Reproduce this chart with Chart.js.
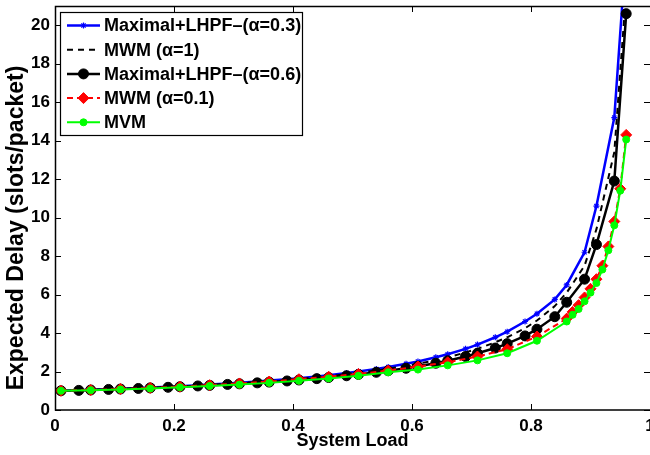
<!DOCTYPE html>
<html>
<head>
<meta charset="utf-8">
<script src="https://cdn.jsdelivr.net/npm/chart.js@4/dist/chart.umd.min.js"></script>
<style>
  html, body { margin: 0; padding: 0; background: #fff; overflow: hidden; }
  #wrap { width: 650px; height: 455px; }
</style>
</head>
<body>
<div id="wrap"><canvas id="delayChart" width="650" height="455"></canvas></div>
<script>
// system load points (dense grid used by the LHPF curves and MWM alpha=1)
const loadGrid = [0.01, 0.04, 0.06, 0.09, 0.11, 0.14, 0.16, 0.19, 0.21, 0.24,
                  0.26, 0.29, 0.31, 0.34, 0.36, 0.39, 0.41, 0.44, 0.46, 0.49,
                  0.51, 0.54, 0.56, 0.59, 0.61, 0.64, 0.66, 0.69, 0.71, 0.74,
                  0.76, 0.79, 0.81, 0.84, 0.86, 0.89, 0.91, 0.94, 0.96];
// sparser grid used by MWM alpha=0.1 and MVM
const loadSparse = [0.01, 0.06, 0.11, 0.16, 0.21, 0.26, 0.31, 0.36, 0.41, 0.46,
                    0.51, 0.56, 0.61, 0.66, 0.71, 0.76, 0.81, 0.86, 0.87, 0.88,
                    0.89, 0.90, 0.91, 0.92, 0.93, 0.94, 0.95, 0.96];

const lhpf03 = [1.00, 1.03, 1.05, 1.08, 1.11, 1.14, 1.17, 1.21, 1.24, 1.29,
                1.32, 1.38, 1.42, 1.48, 1.53, 1.60, 1.65, 1.74, 1.81, 1.92,
                2.00, 2.13, 2.23, 2.40, 2.52, 2.74, 2.90, 3.18, 3.40, 3.78,
                4.07, 4.60, 5.00, 5.75, 6.50, 8.20, 10.6, 15.2, 24.0];
const mwm1 = [1.00, 1.03, 1.05, 1.08, 1.10, 1.13, 1.16, 1.20, 1.23, 1.28,
              1.31, 1.36, 1.40, 1.46, 1.50, 1.57, 1.62, 1.70, 1.76, 1.86,
              1.93, 2.05, 2.14, 2.29, 2.40, 2.59, 2.74, 2.99, 3.18, 3.52,
              3.78, 4.25, 4.65, 5.40, 6.10, 7.50, 9.40, 13.4, 21.8];
const lhpf06 = [1.00, 1.02, 1.04, 1.07, 1.09, 1.12, 1.15, 1.18, 1.21, 1.25,
                1.28, 1.33, 1.36, 1.41, 1.45, 1.51, 1.56, 1.63, 1.69, 1.78,
                1.85, 1.96, 2.04, 2.17, 2.27, 2.43, 2.56, 2.78, 2.95, 3.22,
                3.45, 3.85, 4.20, 4.85, 5.60, 6.80, 8.60, 11.9, 20.6];
const mwm01 = [1.00, 1.04, 1.09, 1.15, 1.21, 1.29, 1.38, 1.48, 1.60, 1.73,
               1.87, 2.05, 2.26, 2.48, 2.78, 3.16, 3.82, 4.75, 5.10, 5.45,
               5.85, 6.30, 6.80, 7.50, 8.50, 9.80, 11.5, 14.3];
const mvm = [1.00, 1.03, 1.07, 1.12, 1.18, 1.25, 1.32, 1.41, 1.52, 1.64,
             1.78, 1.96, 2.10, 2.32, 2.58, 2.95, 3.60, 4.60, 4.95, 5.25,
             5.65, 6.10, 6.60, 7.30, 8.30, 9.60, 11.4, 14.06];

const seriesNames = ['Maximal+LHPF\u2013(\u03b1=0.3)', 'MWM (\u03b1=1)',
                     'Maximal+LHPF\u2013(\u03b1=0.6)', 'MWM (\u03b1=0.1)', 'MVM'];
const xTicks = [0, 0.2, 0.4, 0.6, 0.8, 1];
const yTicks = [0, 2, 4, 6, 8, 10, 12, 14, 16, 18, 20];
const yTitle = 'Expected Delay (slots/packet)';

const pts = (xs, ys) => xs.map((x, i) => ({ x: x, y: ys[i] }));
const FONT = '"Liberation Sans", Arial, Helvetica, sans-serif';

// matlab style frame with inward ticks; right edge falls off the canvas
const matlabFrame = {
  id: 'matlabFrame',
  afterDatasetsDraw(chart) {
    const { ctx, chartArea: a, scales: { x, y } } = chart;
    ctx.save();
    ctx.strokeStyle = '#000';
    ctx.lineWidth = 1;
    ctx.beginPath();
    x.ticks.forEach(t => {
      const px = Math.round(x.getPixelForValue(t.value)) + 0.5;
      ctx.moveTo(px, a.bottom); ctx.lineTo(px, a.bottom - 6);
      ctx.moveTo(px, a.top); ctx.lineTo(px, a.top + 6);
    });
    y.ticks.forEach(t => {
      const py = Math.round(y.getPixelForValue(t.value)) + 0.5;
      ctx.moveTo(a.left, py); ctx.lineTo(a.left + 6, py);
      ctx.moveTo(a.right, py); ctx.lineTo(a.right - 6, py);
    });
    ctx.stroke();
    ctx.lineWidth = 1.5;
    ctx.beginPath();
    ctx.moveTo(a.right + 2, a.top + 0.5);
    ctx.lineTo(a.left + 0.5, a.top + 0.5);
    ctx.lineTo(a.left + 0.5, a.bottom);
    ctx.lineTo(a.right + 2, a.bottom);
    ctx.stroke();
    ctx.restore();
  }
};

// y axis label, sits a little below the axis middle like the matlab export
const yLabel = {
  id: 'yLabel',
  afterDraw(chart) {
    const { ctx, chartArea: a } = chart;
    ctx.save();
    ctx.translate(17, (a.top + a.bottom) / 2 + 20);
    ctx.rotate(-Math.PI / 2);
    ctx.fillStyle = '#000';
    ctx.font = 'bold 23px ' + FONT;
    ctx.textAlign = 'center';
    ctx.textBaseline = 'middle';
    ctx.fillText(yTitle, 0, 0);
    ctx.restore();
  }
};

// boxed legend in the upper left corner of the axes
const boxLegend = {
  id: 'boxLegend',
  afterDraw(chart) {
    const { ctx, chartArea: a } = chart;
    const left = a.left + 5, top = a.top + 6, w = 242, h = 123, row = 24.2;
    ctx.save();
    ctx.fillStyle = '#fff';
    ctx.fillRect(left, top, w, h);
    ctx.strokeStyle = '#000';
    ctx.lineWidth = 1.2;
    ctx.strokeRect(left + 0.5, top + 0.5, w, h);
    chart.data.datasets.forEach((ds, i) => {
      const cy = top + 13.5 + i * row;
      ctx.strokeStyle = ds.borderColor;
      ctx.lineWidth = ds.borderWidth;
      ctx.setLineDash(ds.borderDash || []);
      ctx.beginPath();
      ctx.moveTo(left + 7, cy);
      ctx.lineTo(left + 40, cy);
      ctx.stroke();
      ctx.setLineDash([]);
      if (ds.pointRadius > 0 && Chart.helpers && Chart.helpers.drawPoint) {
        ctx.fillStyle = ds.pointBackgroundColor;
        ctx.strokeStyle = ds.pointBorderColor;
        ctx.lineWidth = ds.pointBorderWidth;
        Chart.helpers.drawPoint(ctx, {
          pointStyle: ds.pointStyle, radius: ds.pointRadius,
          rotation: 0, borderWidth: ds.pointBorderWidth
        }, left + 23.5, cy);
      }
      ctx.fillStyle = '#000';
      ctx.font = 'bold 18px ' + FONT;
      ctx.textBaseline = 'middle';
      ctx.textAlign = 'left';
      ctx.fillText(seriesNames[i], left + 44, cy + 1);
    });
    ctx.restore();
  }
};

new Chart(document.getElementById('delayChart'), {
  type: 'line',
  data: {
    datasets: [
      {
        label: seriesNames[0], data: pts(loadGrid, lhpf03), order: 4,
        borderColor: '#0000ff', borderWidth: 2.5,
        pointStyle: 'star', pointRadius: 3, pointBorderWidth: 1.2,
        pointBackgroundColor: '#0000ff', pointBorderColor: '#0000ff'
      },
      {
        label: seriesNames[1], data: pts(loadGrid, mwm1), order: 3,
        borderColor: '#000000', borderWidth: 2, borderDash: [6, 5],
        pointRadius: 0
      },
      {
        label: seriesNames[2], data: pts(loadGrid, lhpf06), order: 2,
        borderColor: '#000000', borderWidth: 2.5,
        pointStyle: 'circle', pointRadius: 5, pointBorderWidth: 1,
        pointBackgroundColor: '#000000', pointBorderColor: '#000000'
      },
      {
        label: seriesNames[3], data: pts(loadSparse, mwm01), order: 1,
        borderColor: '#ff0000', borderWidth: 2, borderDash: [6, 4],
        pointStyle: 'rectRot', pointRadius: 5.5, pointBorderWidth: 1,
        pointBackgroundColor: '#ff0000', pointBorderColor: '#ff0000'
      },
      {
        label: seriesNames[4], data: pts(loadSparse, mvm), order: 0,
        borderColor: '#00ff00', borderWidth: 2,
        pointStyle: 'circle', pointRadius: 3.5, pointBorderWidth: 1,
        pointBackgroundColor: '#00ff00', pointBorderColor: '#00ff00'
      }
    ]
  },
  options: {
    responsive: false,
    animation: false,
    devicePixelRatio: 1,
    layout: { autoPadding: false, padding: { top: 6, right: 0, left: 0, bottom: 0 } },
    elements: { line: { tension: 0 } },
    plugins: { legend: { display: false }, tooltip: { enabled: false } },
    scales: {
      x: {
        type: 'linear', min: 0, max: 1,
        grid: { display: false, drawTicks: false },
        border: { display: false },
        afterBuildTicks: s => { s.ticks = xTicks.map(v => ({ value: v })); },
        ticks: {
          padding: 6, color: '#000', maxRotation: 0,
          font: { family: FONT, size: 17, weight: 'bold' },
          callback: v => String(Number(v.toFixed(1)))
        },
        title: {
          display: true, text: 'System Load', color: '#000',
          font: { family: FONT, size: 18, weight: 'bold' },
          padding: { top: 0, bottom: 3 }
        },
        afterFit: s => { s.height = 45; s.paddingLeft = 0; s.paddingRight = 0; }
      },
      y: {
        type: 'linear', min: 0, max: 21,
        grid: { display: false, drawTicks: false },
        border: { display: false },
        afterBuildTicks: s => { s.ticks = yTicks.map(v => ({ value: v })); },
        ticks: {
          padding: 5, color: '#000',
          font: { family: FONT, size: 17, weight: 'bold' }
        },
        afterFit: s => { s.width = 55; s.paddingTop = 0; s.paddingBottom = 0; }
      }
    }
  },
  plugins: [matlabFrame, yLabel, boxLegend]
});
</script>
</body>
</html>
